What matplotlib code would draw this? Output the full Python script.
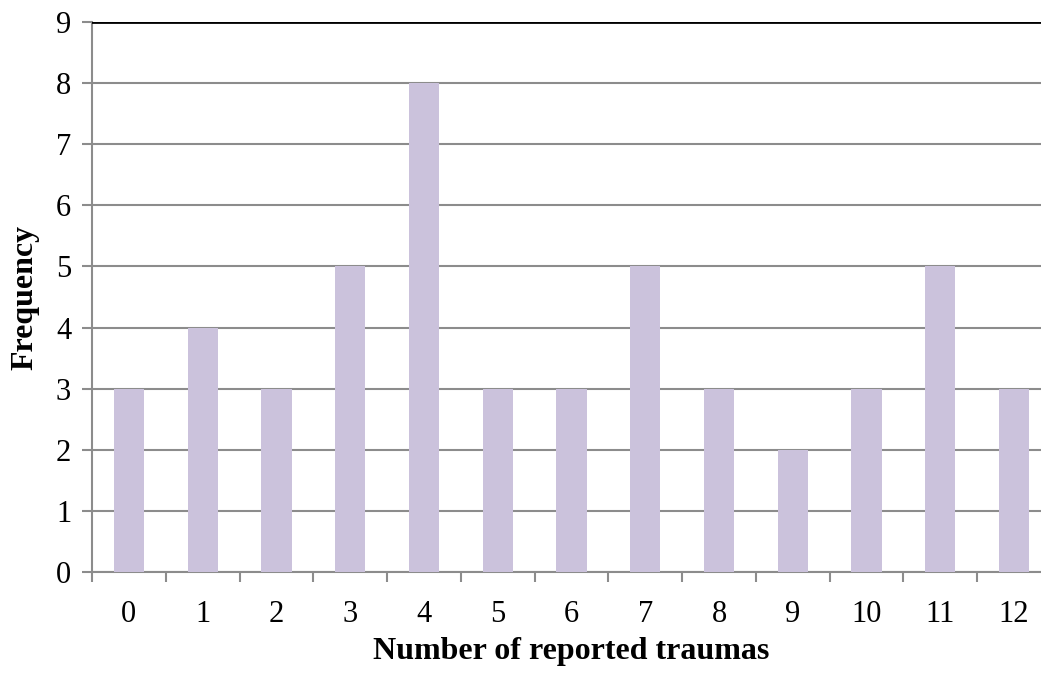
import numpy as np
import matplotlib.pyplot as plt

# datos del histograma
traumas = list(range(13))
frequency = [3, 4, 3, 5, 8, 3, 3, 5, 3, 2, 3, 5, 3]

plt.rcParams['font.family'] = ['Liberation Serif', 'DejaVu Serif']

fig = plt.figure(figsize=(10.41, 6.73), dpi=100)
ax = fig.add_axes([92 / 1041, 1 - 572 / 673, 959 / 1041, 550 / 673])

ax.bar(traumas, frequency, width=0.41, color='#CBC2DC', zorder=3)

ax.set_xlim(-0.5, 12.5)
ax.set_ylim(0, 9)
ax.set_yticks(range(10))
ax.yaxis.grid(True, color='#8C8C8C', linewidth=1.5, zorder=0)
ax.axhline(9, color='black', linewidth=2, zorder=4)

# ticks en los bordes de cada categoria
ax.set_xticks(np.arange(-0.5, 13, 1), minor=False)
ax.set_xticklabels([])
ax.set_xticks(traumas, minor=True)
ax.set_xticklabels([str(t) for t in traumas], minor=True)
ax.tick_params(axis='x', which='major', direction='out', length=7, width=1.5, color='#8C8C8C')
ax.tick_params(axis='x', which='minor', length=0, pad=20, labelsize=22)
ax.tick_params(axis='y', direction='out', length=7, width=1.5, color='#8C8C8C', labelsize=22, pad=8)

for s in ['top', 'right']:
    ax.spines[s].set_visible(False)
for s in ['left', 'bottom']:
    ax.spines[s].set_color('#8C8C8C')
    ax.spines[s].set_linewidth(1.5)

ax.set_xlabel('Number of reported traumas', fontsize=23, fontweight='bold', labelpad=6)
ax.set_ylabel('Frequency', fontsize=23, fontweight='bold', labelpad=12)

fig.savefig('out.png', dpi=100)
